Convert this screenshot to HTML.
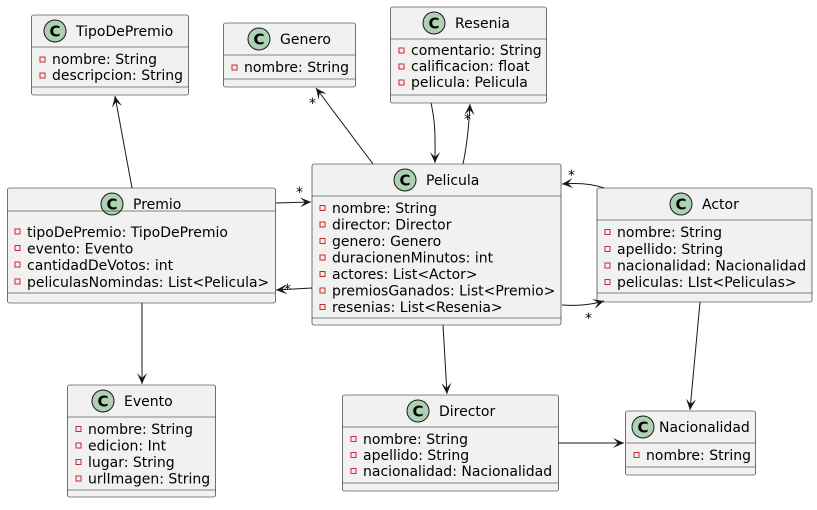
<!DOCTYPE html>
<html><head><meta charset="utf-8"><style>
html,body{margin:0;padding:0;background:#fff}
svg text{font-family:"DejaVu Sans","Liberation Sans",sans-serif;font-size:14px;fill:#000}
.b{fill:#F1F1F1;stroke:#181818;stroke-width:0.6}
.d{stroke:#181818;stroke-width:0.6}
.e{stroke:#181818;stroke-width:1;fill:none}
.c{fill:#ADD1B2;stroke:#181818;stroke-width:1}
.ct{font-weight:bold;font-size:15px}
.v{fill:none;stroke:#C82930;stroke-width:1}
</style></head><body>
<svg width="817" height="505" viewBox="0 0 817 505" xmlns="http://www.w3.org/2000/svg">
<defs><marker id="a" markerUnits="userSpaceOnUse" markerWidth="14" markerHeight="14" viewBox="-12 -7 13 14" refX="0" refY="0" orient="auto"><path d="M0,0 L-11,-5 L-6,0 L-11,5 Z" fill="#181818"/></marker></defs>

<!-- TipoDePremio -->
<rect class="b" x="31.5" y="15" width="157" height="80" rx="2"/>
<circle class="c" cx="55" cy="31" r="11"/><text class="ct" x="55" y="36.5" text-anchor="middle">C</text>
<text x="76" y="36">TipoDePremio</text>
<line class="d" x1="31.5" y1="47" x2="188.5" y2="47"/>
<rect class="v" x="40" y="57" width="5" height="5"/><text x="52" y="64">nombre: String</text>
<rect class="v" x="40" y="73" width="5" height="5"/><text x="52" y="80">descripcion: String</text>
<line class="d" x1="31.5" y1="87" x2="188.5" y2="87"/>

<!-- Genero -->
<rect class="b" x="223.5" y="23" width="132" height="64" rx="2"/>
<circle class="c" cx="259" cy="39" r="11"/><text class="ct" x="259" y="44.5" text-anchor="middle">C</text>
<text x="280" y="44">Genero</text>
<line class="d" x1="223.5" y1="55" x2="355.5" y2="55"/>
<rect class="v" x="232" y="65" width="5" height="5"/><text x="244" y="72">nombre: String</text>
<line class="d" x1="223.5" y1="79" x2="355.5" y2="79"/>

<!-- Resenia -->
<rect class="b" x="390.5" y="7" width="156" height="96" rx="2"/>
<circle class="c" cx="434" cy="23" r="11"/><text class="ct" x="434" y="28.5" text-anchor="middle">C</text>
<text x="455" y="28">Resenia</text>
<line class="d" x1="390.5" y1="39" x2="546.5" y2="39"/>
<rect class="v" x="399" y="48" width="5" height="5"/><text x="411" y="55">comentario: String</text>
<rect class="v" x="399" y="64" width="5" height="5"/><text x="411" y="71">calificacion: float</text>
<rect class="v" x="399" y="80" width="5" height="5"/><text x="411" y="87">pelicula: Pelicula</text>
<line class="d" x1="390.5" y1="95" x2="546.5" y2="95"/>

<!-- Premio -->
<rect class="b" x="7.5" y="188" width="268" height="115" rx="2"/>
<circle class="c" cx="112" cy="204" r="11"/><text class="ct" x="112" y="209.5" text-anchor="middle">C</text>
<text x="133" y="209">Premio</text>
<line class="d" x1="7.5" y1="211" x2="275.5" y2="211"/>
<rect class="v" x="15" y="229" width="5" height="5"/><text x="27" y="237">tipoDePremio: TipoDePremio</text>
<rect class="v" x="15" y="245.5" width="5" height="5"/><text x="27" y="253.5">evento: Evento</text>
<rect class="v" x="15" y="262" width="5" height="5"/><text x="27" y="270">cantidadDeVotos: int</text>
<rect class="v" x="15" y="279" width="5" height="5"/><text x="27" y="287">peliculasNomindas: List&lt;Pelicula&gt;</text>
<line class="d" x1="7.5" y1="293" x2="275.5" y2="293"/>

<!-- Pelicula -->
<rect class="b" x="312" y="164" width="249" height="161" rx="2"/>
<circle class="c" cx="405" cy="180" r="11"/><text class="ct" x="405" y="185.5" text-anchor="middle">C</text>
<text x="426" y="185">Pelicula</text>
<line class="d" x1="312" y1="196" x2="561" y2="196"/>
<rect class="v" x="320" y="205.5" width="5" height="5"/><text x="332" y="213">nombre: String</text>
<rect class="v" x="320" y="222" width="5" height="5"/><text x="332" y="229.5">director: Director</text>
<rect class="v" x="320" y="238.5" width="5" height="5"/><text x="332" y="246">genero: Genero</text>
<rect class="v" x="320" y="255" width="5" height="5"/><text x="332" y="262.5">duracionenMinutos: int</text>
<rect class="v" x="320" y="271.5" width="5" height="5"/><text x="332" y="279">actores: List&lt;Actor&gt;</text>
<rect class="v" x="320" y="288" width="5" height="5"/><text x="332" y="295.5">premiosGanados: List&lt;Premio&gt;</text>
<rect class="v" x="320" y="304.5" width="5" height="5"/><text x="332" y="312">resenias: List&lt;Resenia&gt;</text>
<line class="d" x1="312" y1="318" x2="561" y2="318"/>

<!-- Actor -->
<rect class="b" x="597" y="188" width="215" height="114" rx="2"/>
<circle class="c" cx="681" cy="204" r="11"/><text class="ct" x="681" y="209.5" text-anchor="middle">C</text>
<text x="702" y="209">Actor</text>
<line class="d" x1="597" y1="220" x2="812" y2="220"/>
<rect class="v" x="605" y="229.5" width="5" height="5"/><text x="617" y="237">nombre: String</text>
<rect class="v" x="605" y="246.5" width="5" height="5"/><text x="617" y="254">apellido: String</text>
<rect class="v" x="605" y="263" width="5" height="5"/><text x="617" y="270.5">nacionalidad: Nacionalidad</text>
<rect class="v" x="605" y="279.5" width="5" height="5"/><text x="617" y="287">peliculas: LIst&lt;Peliculas&gt;</text>
<line class="d" x1="597" y1="293" x2="812" y2="293"/>

<!-- Evento -->
<rect class="b" x="67.5" y="385" width="148" height="112" rx="2"/>
<circle class="c" cx="103" cy="401" r="11"/><text class="ct" x="103" y="406.5" text-anchor="middle">C</text>
<text x="124" y="406">Evento</text>
<line class="d" x1="67.5" y1="417" x2="215.5" y2="417"/>
<rect class="v" x="76" y="426.5" width="5" height="5"/><text x="88" y="434">nombre: String</text>
<rect class="v" x="76" y="443" width="5" height="5"/><text x="88" y="450.5">edicion: Int</text>
<rect class="v" x="76" y="459.5" width="5" height="5"/><text x="88" y="467">lugar: String</text>
<rect class="v" x="76" y="476" width="5" height="5"/><text x="88" y="483.5">urlImagen: String</text>
<line class="d" x1="67.5" y1="490" x2="215.5" y2="490"/>

<!-- Director -->
<rect class="b" x="342.5" y="395" width="216" height="96" rx="2"/>
<circle class="c" cx="418" cy="411" r="11"/><text class="ct" x="418" y="416.5" text-anchor="middle">C</text>
<text x="439" y="416">Director</text>
<line class="d" x1="342.5" y1="427" x2="558.5" y2="427"/>
<rect class="v" x="351" y="436.5" width="5" height="5"/><text x="363" y="444">nombre: String</text>
<rect class="v" x="351" y="452.5" width="5" height="5"/><text x="363" y="460">apellido: String</text>
<rect class="v" x="351" y="468.5" width="5" height="5"/><text x="363" y="476">nacionalidad: Nacionalidad</text>
<line class="d" x1="342.5" y1="483" x2="558.5" y2="483"/>

<!-- Nacionalidad -->
<rect class="b" x="625.5" y="411" width="130" height="64" rx="2"/>
<circle class="c" cx="643" cy="427" r="11"/><text class="ct" x="643" y="432.5" text-anchor="middle">C</text>
<text x="659" y="432">Nacionalidad</text>
<line class="d" x1="625.5" y1="443" x2="755.5" y2="443"/>
<rect class="v" x="634" y="452.5" width="5" height="5"/><text x="646" y="460">nombre: String</text>
<line class="d" x1="625.5" y1="467" x2="755.5" y2="467"/>

<!-- edges -->
<path class="e" d="M132,188 L115,96" marker-end="url(#a)"/>
<path class="e" d="M373,164 L316,88" marker-end="url(#a)"/>
<text x="309" y="108">*</text>
<path class="e" d="M431,103 C436,125 435,140 435,163" marker-end="url(#a)"/>
<path class="e" d="M463,164 C467,145 469,125 470,104" marker-end="url(#a)"/>
<text x="464" y="124">*</text>
<path class="e" d="M276,203 L311,202" marker-end="url(#a)"/>
<text x="296" y="197">*</text>
<path class="e" d="M312,288 L276,290" marker-end="url(#a)"/>
<text x="284" y="294">*</text>
<path class="e" d="M604,188 C590,183 575,183 562,184" marker-end="url(#a)"/>
<text x="568" y="180">*</text>
<path class="e" d="M562,305 C578,306 590,305 604,301" marker-end="url(#a)"/>
<text x="585" y="323">*</text>
<path class="e" d="M142,303 L142,384" marker-end="url(#a)"/>
<path class="e" d="M443,325 L447,394" marker-end="url(#a)"/>
<path class="e" d="M700,302 L690,410" marker-end="url(#a)"/>
<path class="e" d="M558,443 L624,443" marker-end="url(#a)"/>
</svg>
</body></html>
